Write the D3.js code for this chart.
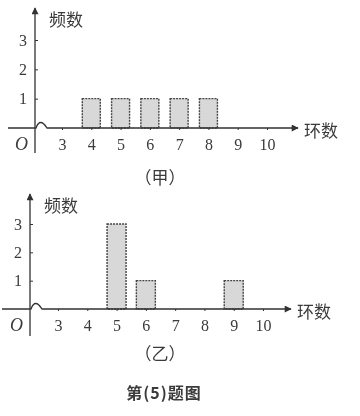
<!DOCTYPE html>
<html>
<head>
<meta charset="utf-8">
<script src="https://cdn.jsdelivr.net/npm/d3@7"></script>
<style>
  body { margin: 0; background: #fff; }
  svg text { fill: #3a3a3a; }
</style>
</head>
<body>
<div id="chart"></div>
<script>
const width = 360;
const height = 416;

// data
const categories = [3, 4, 5, 6, 7, 8, 9, 10];
const jiaCounts = [0, 1, 1, 1, 1, 1, 0, 0];
const yiCounts = [0, 0, 3, 1, 0, 0, 1, 0];
const yTicks = [1, 2, 3];
const panelNames = ["（甲）", "（乙）"];
const caption = "第(5)题图";

const serif = "'Liberation Serif', 'DejaVu Serif', serif";
const cjk = "'Noto Sans CJK SC', sans-serif";
const ink = "#333";

const svg = d3.select("#chart").append("svg")
    .attr("width", width)
    .attr("height", height);

const defs = svg.append("defs");
defs.append("marker")
    .attr("id", "arrow")
    .attr("viewBox", "0 0 10 10")
    .attr("refX", 9).attr("refY", 5)
    .attr("markerWidth", 11).attr("markerHeight", 7)
    .attr("markerUnits", "userSpaceOnUse")
    .attr("orient", "auto")
    .append("path")
    .attr("d", "M0,0 L10,5 L0,10 z")
    .attr("fill", ink);

const blur = defs.append("filter").attr("id", "soft");
blur.append("feGaussianBlur").attr("stdDeviation", 0.5);

function drawPanel(p) {
    const g = svg.append("g").attr("filter", "url(#soft)");

    const x = d3.scaleLinear().domain([3, 10]).range([p.x3, p.x10]);
    const y = d3.scaleLinear().domain([0, 3]).range([p.base, p.top3]);

    // bars
    g.selectAll("rect.bar")
        .data(categories.map((c, i) => ({ c, v: p.values[i] })).filter(d => d.v > 0))
        .join("rect")
        .attr("class", "bar")
        .attr("x", d => x(d.c) - p.barW / 2)
        .attr("y", d => y(d.v))
        .attr("width", p.barW)
        .attr("height", d => y(0) - y(d.v))
        .attr("fill", "#d8d8d8")
        .attr("stroke", "#444")
        .attr("stroke-width", 1.4)
        .attr("stroke-dasharray", "2,1");

    // x axis line with arrow and the small break bump by the origin
    const bump = d3.path();
    bump.moveTo(p.xStart, p.base);
    bump.lineTo(p.yAxisX + 1, p.base);
    bump.quadraticCurveTo(p.yAxisX + 5, p.base - 11, p.yAxisX + 12, p.base);
    bump.lineTo(p.xEnd, p.base);
    g.append("path")
        .attr("d", bump.toString())
        .attr("fill", "none")
        .attr("stroke", ink)
        .attr("stroke-width", 1.3)
        .attr("marker-end", "url(#arrow)");

    // x tick labels via axis
    const xAxis = d3.axisBottom(x).tickValues(categories)
        .tickFormat(d3.format("d")).tickSize(2).tickPadding(9);
    const xg = g.append("g")
        .attr("transform", `translate(0,${p.base})`)
        .call(xAxis);
    xg.select(".domain").remove();
    xg.selectAll(".tick line").attr("stroke", ink);
    xg.selectAll(".tick text")
        .attr("font-family", serif)
        .attr("font-size", 16)
        .attr("fill", "#3a3a3a");

    // y axis with arrow
    g.append("line")
        .attr("x1", p.yAxisX).attr("x2", p.yAxisX)
        .attr("y1", p.yBottom).attr("y2", p.yTop)
        .attr("stroke", ink)
        .attr("stroke-width", 1.3)
        .attr("marker-end", "url(#arrow)");

    const yAxis = d3.axisLeft(y).tickValues(yTicks)
        .tickFormat(d3.format("d")).tickSize(-3).tickPadding(8);
    const yg = g.append("g")
        .attr("transform", `translate(${p.yAxisX},0)`)
        .call(yAxis);
    yg.select(".domain").remove();
    yg.selectAll(".tick line").attr("stroke", ink);
    yg.selectAll(".tick text")
        .attr("font-family", serif)
        .attr("font-size", 16)
        .attr("fill", "#3a3a3a");

    // origin and axis titles
    g.append("text")
        .attr("x", p.yAxisX - 7).attr("y", p.base + 22)
        .attr("text-anchor", "end")
        .attr("font-family", serif).attr("font-style", "italic")
        .attr("font-size", 18)
        .text("O");
    g.append("text")
        .attr("x", p.yAxisX + 14).attr("y", p.yTop + 18)
        .attr("font-family", cjk).attr("font-size", 17)
        .text("频数");
    g.append("text")
        .attr("x", p.xEnd + 6).attr("y", p.base + 9)
        .attr("font-family", cjk).attr("font-size", 17)
        .text("环数");
    g.append("text")
        .attr("x", 160).attr("y", p.labelY)
        .attr("text-anchor", "middle")
        .attr("font-family", cjk).attr("font-size", 17)
        .text(p.name);
}

drawPanel({
    values: jiaCounts, name: panelNames[0],
    x3: 62, x10: 267, base: 128, top3: 40, barW: 18,
    yAxisX: 35, yTop: 8, yBottom: 153, xStart: 8, xEnd: 298, labelY: 184
});

drawPanel({
    values: yiCounts, name: panelNames[1],
    x3: 58, x10: 263, base: 309, top3: 224, barW: 19,
    yAxisX: 30, yTop: 194, yBottom: 336, xStart: 2, xEnd: 291, labelY: 360
});

svg.append("text")
    .attr("x", 164).attr("y", 399)
    .attr("text-anchor", "middle")
    .attr("font-family", cjk).attr("font-size", 16)
    .attr("font-weight", "bold")
    .attr("letter-spacing", 1)
    .attr("fill", "#444")
    .attr("filter", "url(#soft)")
    .text(caption);
</script>
</body>
</html>
